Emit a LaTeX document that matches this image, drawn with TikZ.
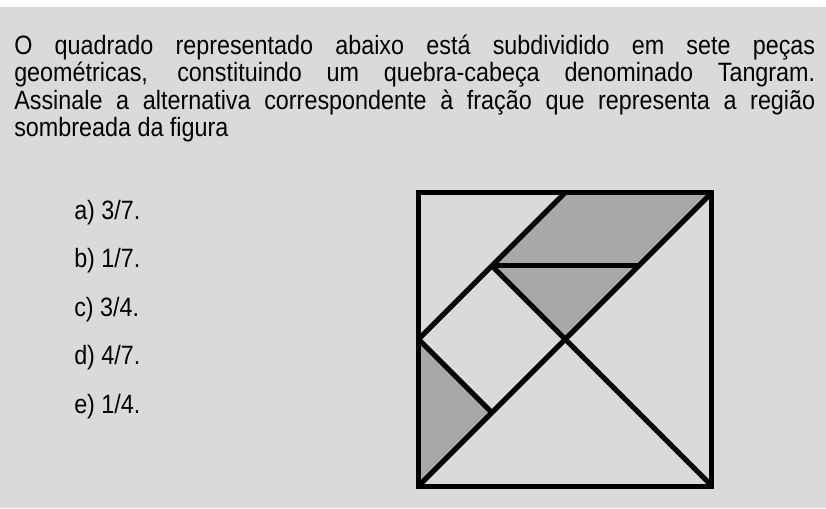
\documentclass[tikz,border=0pt]{standalone}
\usepackage{fontspec}
\setmainfont[FakeStretch=0.88]{Liberation Sans}
\definecolor{bgray}{HTML}{DADADA}
\definecolor{shade}{HTML}{A8A8A8}
\begin{document}
\begin{tikzpicture}[x=0.75pt,y=-0.75pt]
\tikzset{
  txt/.style={anchor=base west, inner sep=0pt, font=\fontsize{19.9}{24}\selectfont},
  piece/.style={fill=shade},
  edge/.style={line width=3.75pt, line cap=butt, line join=miter}
}
\fill[white] (0,0) rectangle (826,508);
\fill[bgray] (0,7) rectangle (826,508);
\useasboundingbox (0,0) rectangle (826,508);
% question text
\node[txt] (l1) at (14,54) {\makebox[600.75pt][s]{O quadrado representado abaixo está subdividido em sete peças}};
\node[txt] (l2) at (14,81.5) {\makebox[600.75pt][s]{geométricas, constituindo um quebra-cabeça denominado Tangram.}};
\node[txt] (l3) at (14,109) {\makebox[600.75pt][s]{Assinale a alternativa correspondente à fração que representa a região}};
\node[txt] (l4) at (14,136.5) {sombreada da figura};
% options
\node[txt] (oa) at (74,219) {a) 3/7.};
\node[txt] (ob) at (74,267.6) {b) 1/7.};
\node[txt] (oc) at (74,316.2) {c) 3/4.};
\node[txt] (od) at (74,364.8) {d) 4/7.};
\node[txt] (oe) at (74,413.4) {e) 1/4.};
% tangram
\begin{scope}[shift={(313.875pt,-364.5pt)}, x=55.03pt, y=55.03pt]
  \fill[piece] (2,4) -- (4,4) -- (3,3) -- (1,3) -- cycle;
  \fill[piece] (1,3) -- (3,3) -- (2,2) -- cycle;
  \fill[piece] (0,0) -- (0,2) -- (1,1) -- cycle;
  \draw[edge] (0,0) -- (4,4);
  \draw[edge] (1,3) -- (4,0);
  \draw[edge] (0,2) -- (2,4);
  \draw[edge] (1,3) -- (3,3);
  \draw[edge] (0,2) -- (1,1);
  \draw[edge] (0,0) rectangle (4,4);
\end{scope}
\end{tikzpicture}
\end{document}
